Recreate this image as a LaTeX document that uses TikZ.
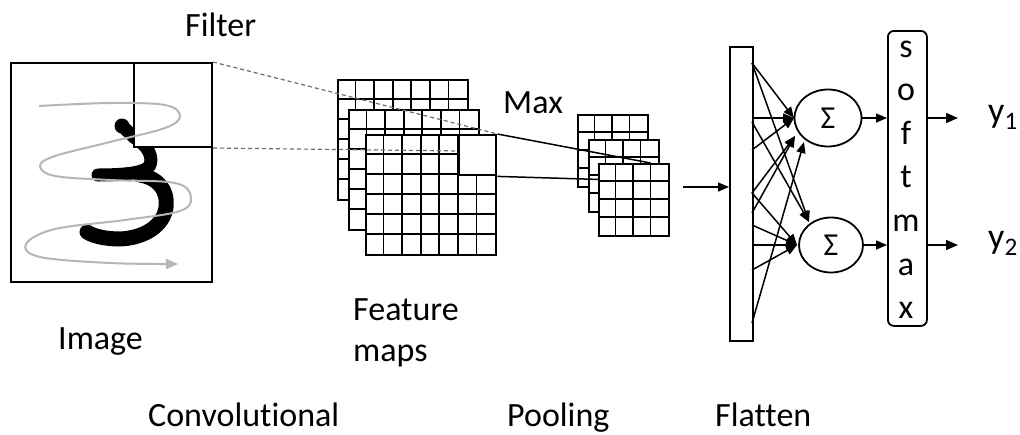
\documentclass[tikz,border=0pt]{standalone}
\usepackage{fontspec}
\setmainfont{Carlito}[Ligatures={NoCommon}]
\usetikzlibrary{arrows.meta,shapes.geometric,calc}
\definecolor{scangray}{RGB}{182,182,182}
\definecolor{dashgray}{RGB}{110,110,110}
\tikzset{
  lbl/.style={font=\fontsize{34}{40}\selectfont, inner sep=0pt, anchor=base west},
  frame/.style={draw, line width=1.8pt, fill=white, anchor=north west, inner sep=0pt},
  gridline/.style={line width=1.6pt},
  dashline/.style={draw=dashgray, line width=1.2pt, dash pattern=on 4pt off 3pt},
  linkline/.style={line width=1.5pt},
  wire/.style={line width=1.5pt, -{Triangle[length=11pt,width=9pt]}},
  outwire/.style={line width=1.6pt, -{Triangle[length=12pt,width=10pt]}},
  sumnode/.style={ellipse, draw, line width=1.8pt, inner sep=0pt,
    font=\fontsize{32}{36}\selectfont}
}
\begin{document}
\begin{tikzpicture}[x=1pt,y=-1pt]
\useasboundingbox[fill=white] (0,0) rectangle (1020,434);

% ---------- input image with handwritten digit ----------
\node[frame, line width=2pt, minimum width=201pt, minimum height=219pt] (img) at (10,62) {};
\fill[black] (122,126) circle (7.5);
\draw[line width=13pt, line cap=round, line join=round]
  (122,126) -- (135,138) .. controls (148,146) and (153,156) .. (150,165)
  .. controls (147,172) and (130,175) .. (98,175);
\draw[line width=15pt, line cap=round, line join=round]
  (140,175) .. controls (158,178) and (168,190) .. (166,207)
  .. controls (164,225) and (145,238) .. (120,239)
  .. controls (105,239) and (93,236) .. (87,232);
% filter window
\node[frame, line width=2pt, minimum width=78pt, minimum height=84pt] (flt) at (133,62) {};
% scanning path of the filter
\draw[scangray, line width=2pt, -{Triangle[length=12pt,width=10pt]}]
  plot[smooth, tension=0.6] coordinates {(39,106) (110,103) (165,105) (180,116) (165,128)
  (110,142) (55,156) (40,166) (55,176) (110,180) (175,183) (191,197) (180,211) (125,220)
  (55,229) (26,244) (40,257) (110,263) (178,264)};

% ---------- feature maps (7 x 6 cells) ----------
\foreach \n/\px/\py in {fa/337/79, fb/348/109, fc/365/134} {
  \node[frame, minimum width=130pt, minimum height=120pt] (\n) at (\px,\py) {};
  \foreach \i in {1,...,6}
    \draw[gridline] ($(\n.north west)+(\i*130/7,0)$) -- ++(0,120);
  \foreach \j in {1,...,5}
    \draw[gridline] ($(\n.north west)+(0,\j*20)$) -- ++(130,0);
}
\node[frame, line width=2.4pt, minimum width=37.1pt, minimum height=40pt] (hl) at (457.9,134) {};
\coordinate (hlw) at ($(hl.north west)!0.4!(hl.south west)$);
\draw[dashline] (flt.north east) -- (hl.north east);
\draw[dashline] (flt.south east) -- (hlw);

% ---------- pooled maps (4 x 4 cells) ----------
\foreach \n/\px/\py in {pa/577/114, pb/588/139} {
  \node[frame, minimum width=70pt, minimum height=72pt] (\n) at (\px,\py) {};
  \foreach \i in {1,...,3}
    \draw[gridline] ($(\n.north west)+(\i*17.5,0)$) -- ++(0,72);
  \foreach \j in {1,...,3}
    \draw[gridline] ($(\n.north west)+(0,\j*18)$) -- ++(70,0);
}
\coordinate (pt1) at (650.5,163);
\coordinate (pt2) at (650.5,181);
\draw[linkline] (hl.north east) -- (pt1);
\draw[linkline] (hl.south east) -- (pt2);
\node[frame, minimum width=70pt, minimum height=72pt] (pc) at (598,163) {};
\foreach \i in {1,...,3}
  \draw[gridline] ($(pc.north west)+(\i*17.5,0)$) -- ++(0,72);
\foreach \j in {1,...,3}
  \draw[gridline] ($(pc.north west)+(0,\j*18)$) -- ++(70,0);

% ---------- flatten layer and dense units ----------
\node[frame, minimum width=23pt, minimum height=294pt] (bar) at (729,46) {};
\coordinate (fin) at (683,187);
\draw[wire] (fin) -- (fin -| bar.west);

\node[sumnode, minimum width=67pt, minimum height=57pt] (T) at (828,118) {Σ};
\node[sumnode, minimum width=64pt, minimum height=55pt] (B) at (831,245) {Σ};

\coordinate (tl) at (794,118);
\coordinate (ta) at (795,136);
\coordinate (tb) at (804,142);
\coordinate (bl) at (797,245);
\coordinate (bc) at (809,222);
\foreach \k/\yy in {1/63, 2/118, 3/122, 4/150, 5/193, 6/213, 7/225, 8/245, 9/270, 10/323}
  \coordinate (b\k) at (752,\yy);
\foreach \s/\t in {b1/tl, b1/bc, b2/tl, b3/bc, b4/tl, b5/ta, b5/bl, b6/ta,
                   b7/bl, b8/bl, b9/bl, b10/tb}
  \draw[wire] (\s) -- (\t);

% ---------- softmax ----------
\node[draw, line width=1.8pt, rounded corners=6pt, minimum width=39pt, minimum height=295pt,
      anchor=north west, inner sep=0pt] (smx) at (887,30) {};
\foreach \ch [count=\k] in {s,o,f,t,m,a,x}
  \node[lbl, anchor=base] (sm\k) at (906,{57+43.6*(\k-1)}) {\ch};
\draw[wire] (T.east) -- (T.east -| smx.west);
\draw[wire] (B.east) -- (B.east -| smx.west);
\coordinate (o1) at (958,118);
\coordinate (o2) at (958,245);
\draw[outwire] (smx.east |- o1) -- (o1);
\draw[outwire] (smx.east |- o2) -- (o2);
\node[inner sep=0pt, anchor=base west, font=\fontsize{36}{40}\selectfont] (y1) at (988,122) {y\textsubscript{1}};
\node[inner sep=0pt, anchor=base west, font=\fontsize{36}{40}\selectfont] (y2) at (988,248) {y\textsubscript{2}};

% ---------- labels ----------
\node[lbl] (tfilter) at (185,36) {Filter};
\node[lbl] (tmax) at (503,113) {Max};
\node[lbl] (timage) at (58,349) {Image};
\node[lbl] (tfeat) at (353,320) {Feature};
\node[lbl] (tmaps) at (353,361) {maps};
\node[lbl] (tconv) at (148,426) {Convolutional};
\node[lbl] (tpool) at (507,426) {Pooling};
\node[lbl] (tflat) at (715,426) {Flatten};
\end{tikzpicture}
\end{document}
